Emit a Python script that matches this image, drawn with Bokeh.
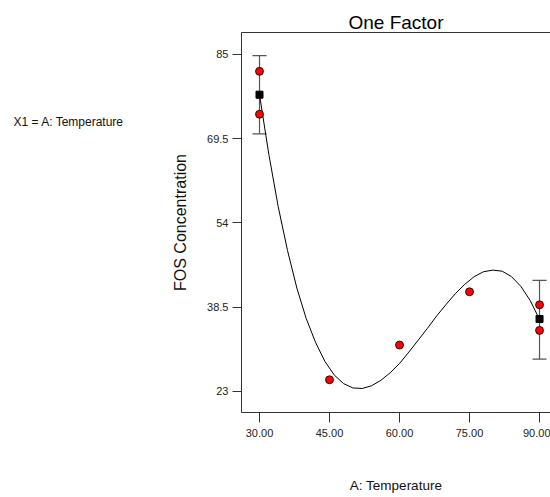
from bokeh.plotting import figure
from bokeh.models import (FixedTicker, Whisker, ColumnDataSource,
                          LinearAxis, TeeHead, Range1d, Title)
from bokeh.core.properties import value
from bokeh.layouts import row
from bokeh.embed import file_html
from bokeh.resources import INLINE

# ---------------- data ----------------
title_text = "One Factor"
x_label = "A: Temperature"
y_label = "FOS Concentration"
factor_note = "X1 = A: Temperature"

x_ticks = [30, 45, 60, 75, 90]
x_tick_labels = ["30.00", "45.00", "60.00", "75.00", "90.00"]
y_ticks = [23, 38.5, 54, 69.5, 85]
y_tick_labels = ["23", "38.5", "54", "69.5", "85"]

# observed runs
obs_x = [30, 30, 45, 60, 75, 90, 90]
obs_y = [81.9, 74.0, 25.1, 31.5, 41.3, 38.9, 34.2]

# design points with replicates: mean and interval
mean_x = [30, 90]
mean_y = [77.6, 36.3]
ci_low = [70.4, 28.9]
ci_high = [84.8, 43.4]

# model prediction curve
curve_x = [30, 32, 34, 36, 38, 40, 42, 44, 46, 48, 50, 52, 54, 56, 58, 60,
           62, 64, 66, 68, 70, 72, 74, 76, 78, 80, 82, 84, 86, 88, 90]
curve_y = [77.6, 66.6, 57.0, 48.9, 42.0, 36.4, 32.0, 28.5, 26.0, 24.4, 23.6,
           23.5, 24.0, 25.0, 26.4, 28.1, 30.2, 32.4, 34.6, 36.9, 39.0, 41.0,
           42.7, 44.1, 45.0, 45.3, 45.1, 44.1, 42.3, 39.7, 36.2]

# ---------------- style ----------------
FONT = "Liberation Sans"
AX = "#333333"
W = 550
H = 497
NOTE_W = 150

# left side note (own small svg canvas)
note = figure(width=NOTE_W, height=H, x_range=Range1d(0, NOTE_W),
              y_range=Range1d(0, H), x_axis_type=None, y_axis_type=None,
              output_backend="svg", toolbar_location=None, min_border=0)
note.grid.visible = False
note.outline_line_color = None
note.text(x=[13], y=[H - 117], text=[factor_note], text_font=value(FONT),
          text_font_size="12px", text_align="left",
          text_baseline="alphabetic", text_color="#111111")

p = figure(width=W - NOTE_W, height=H,
           x_range=Range1d(26.14, 92.35), y_range=Range1d(19.08, 89.05),
           output_backend="svg", toolbar_location=None,
           min_border_left=241 - NOTE_W, min_border_right=0,
           min_border_top=32, min_border_bottom=85)
p.grid.visible = False
p.outline_line_color = None
p.background_fill_color = "white"
p.border_fill_color = "white"

xa = p.xaxis[0]
xa.ticker = FixedTicker(ticks=x_ticks)
xa.major_label_overrides = dict(zip(x_ticks, x_tick_labels))
xa.axis_line_color = AX
xa.major_tick_line_color = AX
xa.major_tick_in = 0
xa.major_tick_out = 10
xa.minor_tick_line_color = None
xa.major_label_text_font = FONT
xa.major_label_text_font_size = "11px"
xa.major_label_text_color = "#222222"
xa.major_label_standoff = 6
xa.axis_label = x_label
xa.axis_label_text_font = FONT
xa.axis_label_text_font_size = "13.5px"
xa.axis_label_text_font_style = "normal"
xa.axis_label_text_color = "#111111"
xa.axis_label_standoff = 38

ya = p.yaxis[0]
ya.ticker = FixedTicker(ticks=y_ticks)
ya.major_label_overrides = dict(zip(y_ticks, y_tick_labels))
ya.axis_line_color = AX
ya.major_tick_line_color = AX
ya.major_tick_in = 0
ya.major_tick_out = 9
ya.minor_tick_line_color = None
ya.major_label_text_font = FONT
ya.major_label_text_font_size = "11px"
ya.major_label_text_color = "#222222"
ya.major_label_standoff = 4
ya.axis_label = y_label
ya.axis_label_text_font = FONT
ya.axis_label_text_font_size = "16px"
ya.axis_label_text_font_style = "normal"
ya.axis_label_text_color = "#111111"
ya.axis_label_standoff = 15

top = LinearAxis(ticker=FixedTicker(ticks=[]), axis_line_color=AX,
                 major_tick_line_color=None, minor_tick_line_color=None,
                 major_tick_out=0, major_tick_in=0, major_label_standoff=0,
                 major_label_text_font_size="0px")
p.add_layout(top, "above")
p.add_layout(Title(text=title_text, text_font=FONT, text_font_size="19px",
                   text_font_style="normal", text_color="black",
                   align="center", standoff=0), "above")

# error bars
src = ColumnDataSource(dict(base=mean_x, lower=ci_low, upper=ci_high))
wh = Whisker(base="base", lower="lower", upper="upper", source=src,
             dimension="height", line_color="#555555", line_width=1.2,
             upper_head=TeeHead(size=14, line_color="#555555", line_width=1.2),
             lower_head=TeeHead(size=14, line_color="#555555", line_width=1.2))
p.add_layout(wh)

p.line(curve_x, curve_y, line_color="black", line_width=1)
p.scatter(obs_x, obs_y, size=8, fill_color="red", line_color="black",
          line_width=0.8)
p.scatter(mean_x, mean_y, marker="square", size=7, fill_color="black",
          line_color="black")

layout = row(note, p, spacing=0)
open("out.html", "w").write(file_html(layout, INLINE))
